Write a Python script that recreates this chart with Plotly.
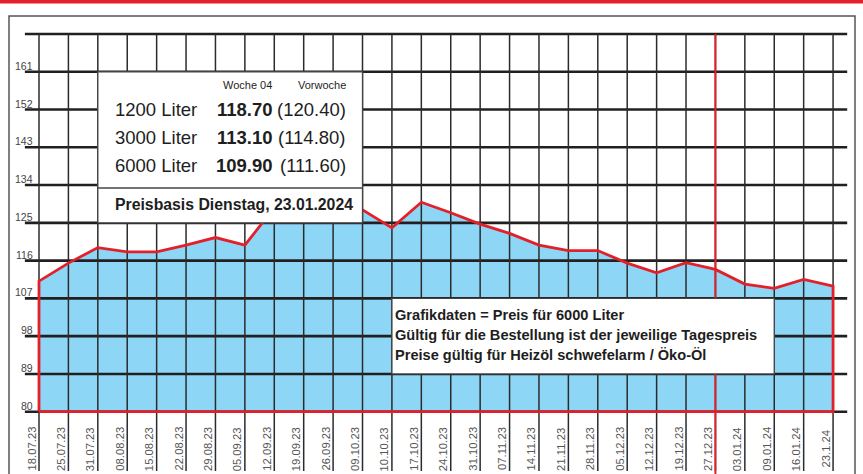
import plotly.graph_objects as go

# ---------------- data ----------------
dates = ["18.07.23", "25.07.23", "31.07.23", "08.08.23", "15.08.23", "22.08.23",
         "29.08.23", "05.09.23", "12.09.23", "19.09.23", "26.09.23", "09.10.23",
         "10.10.23", "17.10.23", "24.10.23", "31.10.23", "07.11.23", "14.11.23",
         "21.11.23", "28.11.23", "05.12.23", "12.12.23", "19.12.23", "27.12.23",
         "03.01.24", "09.01.24", "16.01.24", "23.1.24"]
prices = [111.1, 115.4, 119.1, 118.1, 118.1, 119.7, 121.5, 119.7, 128.6, 130.0,
          129.2, 128.1, 123.8, 129.9, 127.4, 124.7, 122.5, 119.7, 118.4, 118.4,
          115.4, 113.1, 115.5, 113.9, 110.4, 109.4, 111.5, 109.9]
y_ticks = [80, 89, 98, 107, 116, 125, 134, 143, 152, 161, 170]
y_labels = ["80", "89", "98", "107", "116", "125", "134", "143", "152", "161", ""]
year_mark = "27.12.23"

volumes = ["1200 Liter", "3000 Liter", "6000 Liter"]
week_prices = ["118.70", "113.10", "109.90"]
prev_prices = ["(120.40)", "(114.80)", "(111.60)"]
week_header = "Woche 04"
prev_header = "Vorwoche"
basis_text = "Preisbasis Dienstag, 23.01.2024"
note_lines = ["Grafikdaten = Preis für 6000 Liter",
              "Gültig für die Bestellung ist der jeweilige Tagespreis",
              "Preise gültig für Heizöl schwefelarm / Öko-Öl"]

# ---------------- style ----------------
W, H = 863, 474
RED = "#e3202a"
BLUE = "#8dd6f6"
GRID_DARK = "#231f20"
GRID_V = "#2b2b2b"
FONT = "Liberation Sans, Arial, Helvetica, sans-serif"
TXT = "#1e1e1e"

n = len(dates)
idx = list(range(n))
y_min = y_ticks[0]
y_top = y_ticks[-1]

# pixel geometry (used for ranges only)
x_step = 29.41
x_first = 39.0
y_px80 = 411.7
y_unit = 4.197
x_range = [-x_first / x_step, (W - x_first) / x_step]
y_range = [y_min - (H - y_px80) / y_unit, y_min + y_px80 / y_unit]
v_grid_bottom = y_min - (471 - y_px80) / y_unit


def px(xp):
    return xp / W


def py(yp):
    return 1 - yp / H


fig = go.Figure()

# blue area
fig.add_trace(go.Scatter(
    x=[idx[0]] + idx + [idx[-1]], y=[y_min] + prices + [y_min],
    mode="lines", fill="toself", fillcolor=BLUE, line=dict(width=0),
    hoverinfo="skip", showlegend=False))

# horizontal grid lines
hx, hy = [], []
for v in y_ticks:
    hx += [idx[0] - 0.48, idx[-1] + 0.48, None]
    hy += [v, v, None]
fig.add_trace(go.Scatter(x=hx, y=hy, mode="lines",
                         line=dict(color=GRID_DARK, width=2.6),
                         hoverinfo="skip", showlegend=False))

# vertical grid lines
vx, vy = [], []
for i in idx:
    vx += [i, i, None]
    vy += [v_grid_bottom, y_top, None]
fig.add_trace(go.Scatter(x=vx, y=vy, mode="lines",
                         line=dict(color=GRID_V, width=1.5),
                         hoverinfo="skip", showlegend=False))

# red outline of area
fig.add_trace(go.Scatter(
    x=[idx[0]] + idx + [idx[-1], idx[0]], y=[y_min] + prices + [y_min, y_min],
    mode="lines", line=dict(color=RED, width=2.8),
    hoverinfo="skip", showlegend=False))

# red year-change line
ym = dates.index(year_mark)
fig.add_trace(go.Scatter(x=[ym, ym], y=[y_range[0], y_top], mode="lines",
                         line=dict(color=RED, width=2),
                         hoverinfo="skip", showlegend=False))

shapes = []
# top red bar
shapes.append(dict(type="rect", xref="paper", yref="paper",
                   x0=0, x1=1, y0=py(3.5), y1=1.0,
                   fillcolor=RED, line=dict(width=0), layer="above"))
# outer frame
shapes.append(dict(type="rect", xref="paper", yref="paper",
                   x0=px(9), x1=px(855), y0=py(490), y1=py(16),
                   fillcolor="rgba(0,0,0,0)", line=dict(color="#555555", width=1.5),
                   layer="above"))
# price box
shapes.append(dict(type="rect", xref="x", yref="y", x0=2, x1=11, y0=125, y1=161,
                   fillcolor="white", line=dict(color="#444444", width=1.3),
                   layer="above"))
shapes.append(dict(type="line", xref="x", yref="y", x0=2, x1=11, y0=133.3, y1=133.3,
                   line=dict(color="#444444", width=1.3), layer="above"))
# note box
shapes.append(dict(type="rect", xref="x", yref="y", x0=12, x1=25, y0=89, y1=107,
                   fillcolor="white", line=dict(color="#444444", width=1.3),
                   layer="above"))

annotations = []
# y labels
for v, lab in zip(y_ticks, y_labels):
    if lab:
        annotations.append(dict(xref="paper", yref="y", x=px(35), y=v,
                                xanchor="right", yanchor="bottom", yshift=-2,
                                text=lab, showarrow=False,
                                font=dict(family=FONT, size=10.5, color="#444444")))
# x labels
for i, d in zip(idx, dates):
    annotations.append(dict(xref="x", yref="paper", x=i, y=py(449), xshift=-7.5,
                            xanchor="center", yanchor="middle", textangle=-90,
                            text=d, showarrow=False,
                            font=dict(family=FONT, size=11.3, color="#555555")))
# price box text
annotations.append(dict(xref="paper", yref="paper", x=px(274), y=py(85),
                        xanchor="right", yanchor="middle", text=week_header,
                        showarrow=False, font=dict(family=FONT, size=11, color=TXT)))
annotations.append(dict(xref="paper", yref="paper", x=px(348), y=py(85),
                        xanchor="right", yanchor="middle", text=prev_header,
                        showarrow=False, font=dict(family=FONT, size=11, color=TXT)))
row_y = [109.5, 137.5, 165.5]
for ry, vol, wp, pp in zip(row_y, volumes, week_prices, prev_prices):
    annotations.append(dict(xref="paper", yref="paper", x=px(113), y=py(ry),
                            xanchor="left", yanchor="middle", text=vol, showarrow=False,
                            font=dict(family=FONT, size=18.5, color=TXT)))
    annotations.append(dict(xref="paper", yref="paper", x=px(275), y=py(ry),
                            xanchor="right", yanchor="middle", text="<b>" + wp + "</b>",
                            showarrow=False,
                            font=dict(family=FONT, size=18.5, color=TXT)))
    annotations.append(dict(xref="paper", yref="paper", x=px(348), y=py(ry),
                            xanchor="right", yanchor="middle", text=pp, showarrow=False,
                            font=dict(family=FONT, size=18.5, color=TXT)))
annotations.append(dict(xref="paper", yref="paper", x=px(113), y=py(205),
                        xanchor="left", yanchor="middle", text="<b>" + basis_text + "</b>",
                        showarrow=False, font=dict(family=FONT, size=15.8, color=TXT)))
# note box text
for k, line in enumerate(note_lines):
    annotations.append(dict(xref="paper", yref="paper", x=px(393), y=py(315 + 20 * k),
                            xanchor="left", yanchor="middle", text="<b>" + line + "</b>",
                            showarrow=False,
                            font=dict(family=FONT, size=14.6, color=TXT)))

fig.update_layout(
    width=W, height=H,
    margin=dict(l=0, r=0, t=0, b=0),
    paper_bgcolor="white", plot_bgcolor="white",
    xaxis=dict(range=x_range, visible=False, fixedrange=True),
    yaxis=dict(range=y_range, visible=False, fixedrange=True),
    shapes=shapes, annotations=annotations,
    showlegend=False,
)

fig.write_html("out.html", config={"displayModeBar": False},
               post_script="document.body.style.margin='0';document.body.style.padding='0';")
